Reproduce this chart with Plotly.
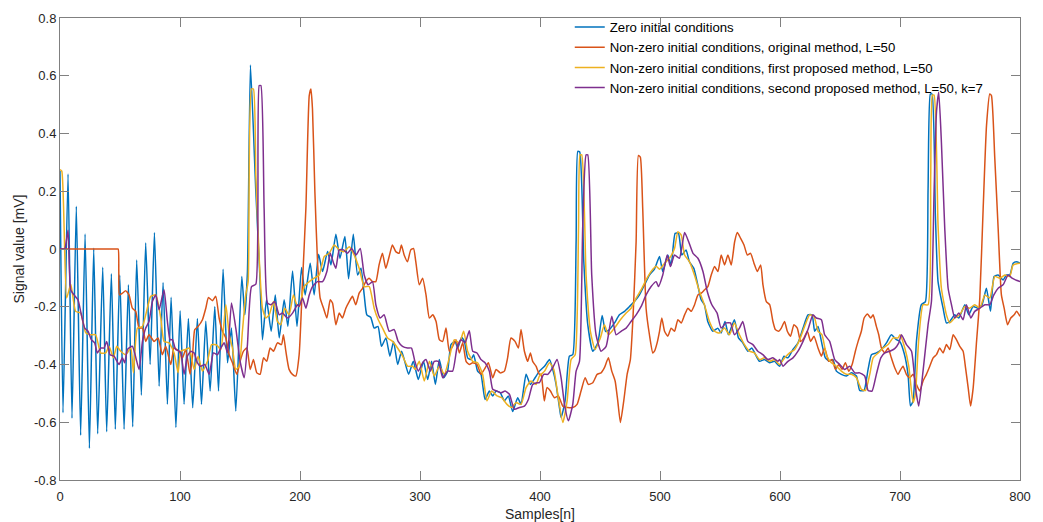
import plotly.graph_objects as go

# ---------------- data (sample index, value in mV) ----------------
blue_pts = [(0,0.27),(2.5,-0.567),(6.7,0.26),(10,-0.586),(13.6,0.148),(17.2,-0.645),(20.9,0.052),(24.5,-0.69),(28.1,0.003),(31.4,-0.64),(35.6,-0.063),(38.9,-0.633),(42.8,-0.086),(46.1,-0.624),(49.8,-0.09),(53.4,-0.624),(57.0,-0.124),(60.6,-0.616),(63.9,-0.038),(67.8,-0.506),(71.4,0.022),(75.1,-0.4),(78.7,0.057),(82.6,-0.475),(85.9,-0.116),(89.5,-0.538),(92.6,-0.167),(96.6,-0.618),(100.1,-0.214),(103.4,-0.538),(107,-0.241),(110.6,-0.55),(114.5,-0.241),(117.9,-0.538),(121.5,-0.25),(125.1,-0.492),(129,-0.199),(132.1,-0.492),(135.9,-0.07),(139.6,-0.394),(142.9,-0.274),(146.5,-0.561),(151.5,-0.095),(154,-0.228),(156.2,-0.078),(158.7,0.637),(163.2,0.198),(166.5,-0.09),(168.7,-0.314),(172.1,-0.176),(176,-0.285),(179.4,-0.159),(182.7,-0.308),(186.8,-0.176),(189.9,-0.268),(193.8,-0.076),(197.5,-0.268),(201.3,-0.064),(204.3,-0.159),(208.5,-0.049),(211.8,-0.159),(215.5,-0.018),(218.8,-0.078),(223,-0.009),(225.8,-0.055),(229.9,0.051),(233.3,-0.032),(237.4,0.043),(240.5,-0.103),(244.4,0.051),(248,-0.09),(250.8,-0.067),(253.5,-0.159),(255.7,-0.228),(259,-0.237),(261.8,-0.274),(265,-0.268),(267.9,-0.337),(271.6,-0.308),(274.9,-0.371),(278,-0.32),(281.4,-0.4),(284.7,-0.354),(290.5,-0.434),(294.4,-0.389),(298.6,-0.452),(302.9,-0.389),(306.4,-0.452),(309.7,-0.389),(312.8,-0.469),(316.1,-0.383),(319.7,-0.446),(323,-0.423),(325.8,-0.331),(329.2,-0.32),(331.4,-0.343),(334.7,-0.306),(337,-0.32),(339.7,-0.377),(342.5,-0.383),(344.7,-0.366),(348,-0.423),(350.8,-0.434),(354.2,-0.521),(357.8,-0.492),(360.6,-0.509),(363.4,-0.492),(366.9,-0.498),(370.3,-0.526),(373.6,-0.509),(377.2,-0.563),(381.4,-0.515),(384.2,-0.538),(388.4,-0.434),(392,-0.469),(395.9,-0.446),(399.5,-0.423),(403.8,-0.406),(407.9,-0.383),(410.6,-0.417),(413.4,-0.469),(416.2,-0.549),(417.6,-0.584),(420.9,-0.526),(424.5,-0.371),(427.3,-0.366),(430.1,0.025),(431.5,0.338),(433.1,0.336),(436.5,-0.044),(439.8,-0.262),(444,-0.354),(448.2,-0.325),(451.8,-0.23),(454.6,-0.285),(457.9,-0.279),(462.1,-0.256),(466.2,-0.228),(470.4,-0.216),(474.6,-0.199),(478.7,-0.182),(482.9,-0.159),(487.1,-0.124),(491.2,-0.09),(495.4,-0.07),(499.6,-0.026),(502.3,-0.078),(506.5,-0.021),(509.3,-0.055),(512.6,0.054),(515.4,0.054),(518.2,-0.021),(521.7,-0.003),(524.5,-0.044),(528.2,-0.067),(530.9,-0.113),(534.3,-0.176),(537,-0.193),(539.8,-0.251),(544,-0.285),(548.1,-0.274),(550.9,-0.291),(554.2,-0.251),(557,-0.297),(562,-0.245),(565.4,-0.308),(569,-0.325),(573.2,-0.354),(576.5,-0.343),(579.6,-0.366),(582.9,-0.389),(587.1,-0.383),(591.3,-0.394),(595.4,-0.389),(599.6,-0.406),(603.3,-0.371),(606.6,-0.377),(610.8,-0.348),(615,-0.325),(619.2,-0.274),(623.3,-0.228),(626.7,-0.228),(628.9,-0.285),(631.7,-0.268),(634.5,-0.32),(637.8,-0.377),(641.4,-0.389),(644.2,-0.383),(647,-0.423),(651.1,-0.434),(655.3,-0.44),(659.5,-0.429),(663.7,-0.44),(666.4,-0.49),(670,-0.49),(673.4,-0.417),(676.2,-0.366),(680.3,-0.36),(684.5,-0.348),(688.7,-0.325),(692.8,-0.297),(697,-0.314),(699.8,-0.32),(703.4,-0.36),(706.7,-0.434),(708.7,-0.544),(710.9,-0.526),(713.7,-0.32),(717.8,-0.193),(721.2,-0.182),(723.4,0.209),(725.3,0.537),(726.7,0.537),(729.5,0.117),(731.7,-0.113),(735.9,-0.205),(738.7,-0.256),(741.5,-0.251),(745.6,-0.228),(749,-0.239),(754,-0.193),(757.3,-0.228),(760.9,-0.199),(765.1,-0.205),(768.4,-0.193),(772,-0.136),(775.4,-0.216),(778.4,-0.095),(781.8,-0.09),(785.9,-0.107),(788.7,-0.09),(791.5,-0.09),(794.3,-0.049),(797,-0.044),(800,-0.049)]

orange_pts = [(0,0),(20,0),(40,0),(47,0),(48.5,0),(49,-0.08),(49.5,-0.159),(52,-0.153),(54.8,-0.145),(57.5,-0.159),(60.3,-0.205),(63.1,-0.216),(65.9,-0.274),(68.7,-0.274),(71.4,-0.32),(74.2,-0.297),(78.4,-0.32),(81.7,-0.308),(85.3,-0.366),(88.1,-0.337),(92.3,-0.4),(95.1,-0.343),(99.2,-0.354),(102,-0.377),(104.8,-0.348),(108.4,-0.434),(110.4,-0.371),(112.3,-0.279),(115.1,-0.268),(118.7,-0.245),(121.5,-0.205),(123.7,-0.168),(127,-0.179),(129.8,-0.164),(132.6,-0.239),(135.4,-0.285),(138.2,-0.308),(141,-0.366),(143.7,-0.394),(147.4,-0.434),(150.1,-0.389),(152.9,-0.354),(155.7,-0.343),(158.5,-0.417),(161.2,-0.383),(164,-0.429),(166.8,-0.434),(169.6,-0.377),(172.3,-0.389),(175.1,-0.343),(177.9,-0.354),(181.2,-0.325),(184.6,-0.331),(186.2,-0.297),(188.2,-0.354),(190.9,-0.417),(193.7,-0.434),(196.5,-0.44),(199.3,-0.366),(202.1,-0.113),(204.9,0.14),(207.7,0.531),(209.1,0.554),(210.4,0.485),(212.4,0.198),(214.6,-0.044),(216.8,-0.17),(219.6,-0.205),(222.4,-0.239),(225.2,-0.176),(227.1,-0.187),(229.9,-0.262),(232.7,-0.222),(235.4,-0.239),(238.2,-0.205),(241,-0.182),(243.7,-0.164),(246.5,-0.193),(249.3,-0.153),(252.1,-0.136),(254.8,-0.113),(257.6,-0.101),(260.4,-0.113),(263.2,-0.113),(265.9,-0.055),(268.7,-0.015),(271.5,-0.067),(274.3,-0.026),(277,0.014),(279.8,-0.009),(282.6,-0.015),(284.5,0.014),(286.8,-0.021),(289.6,-0.044),(292.3,-0.003),(294.6,0.002),(296.5,-0.044),(299.4,-0.124),(302.2,-0.101),(305,-0.159),(307.8,-0.239),(310.6,-0.228),(313.4,-0.251),(316.1,-0.314),(318.9,-0.32),(321.7,-0.274),(324.4,-0.354),(327.2,-0.337),(330,-0.314),(332.8,-0.36),(335.6,-0.325),(338.4,-0.389),(341.1,-0.4),(343.9,-0.394),(347.5,-0.4),(350.8,-0.434),(353.6,-0.417),(357,-0.394),(360.6,-0.446),(363.4,-0.417),(366.9,-0.429),(370.3,-0.423),(373,-0.377),(375.8,-0.308),(379.2,-0.32),(382,-0.343),(384.2,-0.279),(387,-0.354),(389.8,-0.389),(392,-0.36),(393.9,-0.389),(396.7,-0.406),(399.5,-0.434),(400.9,-0.434),(403.6,-0.526),(405.8,-0.48),(408.7,-0.492),(412,-0.515),(415.3,-0.509),(419,-0.544),(423.1,-0.549),(427.3,-0.549),(430.9,-0.538),(434.2,-0.492),(437.6,-0.446),(440.3,-0.469),(444,-0.463),(447.6,-0.434),(450.9,-0.429),(453.7,-0.411),(457,-0.377),(459.8,-0.423),(462.6,-0.457),(464.8,-0.526),(467,-0.601),(469.8,-0.526),(472.6,-0.434),(475.3,-0.383),(477.6,-0.228),(480.1,0.025),(482,0.324),(483.6,0.318),(485.6,0.14),(488.4,-0.205),(491.2,-0.297),(494,-0.36),(495.4,-0.354),(497.6,-0.325),(499.6,-0.285),(501.5,-0.239),(503.8,-0.285),(506.5,-0.302),(509.3,-0.274),(512.1,-0.285),(514.9,-0.245),(517.7,-0.256),(520.5,-0.228),(523.3,-0.205),(526,-0.216),(528.8,-0.193),(531.6,-0.159),(534.4,-0.153),(537.2,-0.141),(539.9,-0.13),(542.7,-0.09),(545.5,-0.061),(548.3,-0.078),(551,-0.021),(553.8,-0.055),(556.6,-0.021),(559.4,-0.055),(562.2,0.025),(564.4,0.057),(567.2,0.037),(570,0.014),(572.8,-0.021),(575.5,-0.015),(578.3,-0.049),(581.1,-0.078),(583.9,-0.055),(585.8,-0.124),(588.6,-0.182),(591.4,-0.193),(594.1,-0.251),(596.1,-0.279),(598.9,-0.285),(601.1,-0.274),(603.8,-0.251),(606.1,-0.285),(608.8,-0.302),(611.6,-0.262),(614.4,-0.274),(617.2,-0.32),(620,-0.308),(622.8,-0.285),(625.5,-0.32),(628.3,-0.302),(631.7,-0.343),(634.5,-0.371),(637.2,-0.343),(640.6,-0.389),(643.4,-0.383),(646.2,-0.417),(649,-0.4),(651.7,-0.417),(654.5,-0.394),(657.3,-0.423),(660.1,-0.4),(662.8,-0.354),(665.1,-0.32),(667.8,-0.285),(670.1,-0.239),(672.8,-0.225),(675.6,-0.239),(677.6,-0.228),(680.3,-0.268),(682.3,-0.297),(684.5,-0.343),(687.3,-0.36),(690.1,-0.343),(692.8,-0.377),(695.6,-0.411),(698.4,-0.434),(699.8,-0.423),(702.5,-0.406),(705.3,-0.434),(708.1,-0.446),(710.9,-0.434),(713.7,-0.469),(716.4,-0.492),(719.2,-0.457),(722,-0.434),(724.8,-0.406),(727.6,-0.377),(730.4,-0.366),(733.1,-0.343),(735.9,-0.36),(738.7,-0.331),(741.5,-0.348),(744.3,-0.297),(747,-0.314),(749.8,-0.337),(752.6,-0.354),(754.6,-0.411),(756.8,-0.48),(758.8,-0.544),(761,-0.48),(763.8,-0.32),(766.5,-0.17),(769.3,0.14),(772.1,0.428),(774.8,0.537),(776.2,0.531),(779,0.313),(781.8,0.071),(784.5,-0.159),(786.8,-0.205),(789.6,-0.262),(792.3,-0.239),(795.1,-0.228),(797.1,-0.216),(800,-0.233)]

yellow_pts = [(0,0.275),(1.5,0.27),(5.5,-0.17),(9,-0.122),(13,-0.216),(17.2,-0.222),(21.4,-0.29),(25.6,-0.297),(29.7,-0.297),(33.9,-0.36),(38.1,-0.36),(40.9,-0.337),(44.5,-0.377),(47.3,-0.337),(50.6,-0.354),(54.8,-0.366),(59,-0.343),(61.2,-0.429),(64.5,-0.274),(68.7,-0.268),(75.6,-0.164),(79.8,-0.159),(84,-0.239),(86.7,-0.32),(90.9,-0.325),(95.1,-0.36),(98.4,-0.429),(100.7,-0.354),(104.8,-0.348),(107.6,-0.343),(111.8,-0.417),(115.1,-0.371),(118.7,-0.423),(122.9,-0.389),(126.3,-0.331),(130.7,-0.333),(134,-0.348),(138.2,-0.193),(141,-0.297),(143.7,-0.343),(146.5,-0.417),(149.3,-0.406),(152,-0.285),(154.8,-0.159),(156.8,-0.113),(159.5,0.554),(161.2,0.554),(163.2,0.255),(166,-0.032),(168.7,-0.205),(171.5,-0.239),(174.3,-0.228),(177.9,-0.182),(181.2,-0.251),(184,-0.262),(187.3,-0.205),(190.9,-0.228),(194.5,-0.159),(197,-0.19),(199.3,-0.199),(203.5,-0.13),(207.7,-0.113),(211.8,-0.101),(216,-0.09),(220.2,-0.026),(224.3,-0.015),(228.5,0.014),(232.7,-0.003),(236.8,-0.009),(241,0.008),(245.2,-0.021),(249.3,-0.067),(253.5,-0.13),(257.7,-0.13),(261.8,-0.205),(265.2,-0.245),(268.8,-0.274),(273,-0.308),(277.2,-0.32),(281.3,-0.343),(285.5,-0.371),(289.7,-0.406),(293.8,-0.406),(296,-0.417),(299.4,-0.389),(303.6,-0.457),(307.8,-0.389),(311.9,-0.44),(316.1,-0.406),(320.3,-0.434),(324.4,-0.377),(328.6,-0.314),(332.8,-0.325),(336.4,-0.285),(339.7,-0.354),(343.9,-0.389),(348,-0.394),(352.2,-0.434),(355.8,-0.526),(359.7,-0.492),(364.2,-0.509),(368.1,-0.515),(372.5,-0.538),(376.4,-0.549),(380,-0.532),(384.2,-0.538),(388.4,-0.48),(392.5,-0.457),(396.7,-0.469),(399.5,-0.44),(403.8,-0.423),(407.9,-0.394),(411.5,-0.417),(414.8,-0.503),(419,-0.601),(422.6,-0.526),(425.9,-0.383),(429.3,-0.366),(432.1,0.071),(433.4,0.326),(434.8,0.326),(438.4,-0.09),(442,-0.285),(445.9,-0.348),(450.3,-0.308),(453.7,-0.262),(457,-0.297),(462,-0.274),(467,-0.245),(471.8,-0.222),(475.9,-0.205),(480.1,-0.17),(484.3,-0.141),(488.4,-0.107),(492.6,-0.078),(496.8,-0.06),(499.6,-0.07),(503.8,-0.049),(507.9,-0.032),(512.1,0.002),(514.9,0.06),(517.7,0.048),(520.5,-0.021),(524.5,-0.044),(528.7,-0.09),(532.9,-0.147),(537,-0.193),(541.2,-0.251),(545.4,-0.285),(549.5,-0.291),(553.7,-0.274),(557.9,-0.297),(562,-0.256),(566.2,-0.297),(570.4,-0.331),(574.6,-0.354),(578.7,-0.36),(582.9,-0.383),(587.1,-0.377),(591.3,-0.389),(595.4,-0.383),(599.6,-0.4),(603.9,-0.377),(608,-0.36),(612.2,-0.348),(616.4,-0.314),(620.5,-0.268),(624.7,-0.228),(628.3,-0.233),(631.7,-0.285),(635,-0.297),(638.6,-0.366),(642.8,-0.394),(647,-0.406),(651.1,-0.423),(655.3,-0.434),(659.5,-0.434),(663.7,-0.446),(667.8,-0.486),(671.2,-0.49),(674.8,-0.434),(677.6,-0.377),(681.8,-0.36),(685.9,-0.343),(690.1,-0.331),(694.3,-0.308),(698.4,-0.308),(700,-0.297),(704,-0.343),(707.3,-0.406),(710.9,-0.532),(712.8,-0.503),(715.6,-0.314),(719.2,-0.193),(723.4,-0.193),(725.6,0.255),(727,0.533),(728.4,0.533),(731.7,0.083),(734.5,-0.136),(738.7,-0.228),(741.5,-0.256),(745.6,-0.239),(749.8,-0.228),(754,-0.199),(758.1,-0.205),(762.3,-0.193),(766.5,-0.205),(770.7,-0.159),(774.8,-0.17),(779,-0.095),(783.2,-0.101),(787.4,-0.09),(791.5,-0.095),(794.3,-0.055),(800,-0.049)]

purple_pts = [(0,0),(2,0),(4,0),(5,0.02),(6.7,0.065),(8.9,-0.141),(11.7,-0.159),(15,-0.176),(17.2,-0.216),(20.6,-0.274),(23.4,-0.285),(26.1,-0.314),(28.9,-0.325),(31.1,-0.36),(33.9,-0.343),(36.7,-0.343),(38.9,-0.32),(41.7,-0.366),(45,-0.371),(49.2,-0.4),(52,-0.377),(53.9,-0.394),(56.2,-0.348),(60.3,-0.337),(65.9,-0.417),(68.7,-0.32),(71.4,-0.274),(74.2,-0.251),(77,-0.182),(79.8,-0.159),(82.6,-0.21),(86.7,-0.141),(89.5,-0.251),(91.7,-0.314),(93.7,-0.314),(96.4,-0.348),(99.2,-0.354),(100.7,-0.36),(103.4,-0.434),(106.2,-0.371),(109,-0.354),(111.8,-0.36),(114.5,-0.394),(117.3,-0.406),(120.7,-0.4),(124.3,-0.434),(127.9,-0.36),(131.2,-0.366),(134,-0.343),(136.8,-0.325),(139.6,-0.36),(142.9,-0.187),(146.5,-0.274),(150.1,-0.389),(153.5,-0.446),(156.2,-0.331),(159.6,-0.13),(163.2,-0.122),(166,0.566),(167.4,0.566),(170.1,0.14),(172.9,-0.187),(175.7,-0.193),(179,-0.182),(182.7,-0.228),(185.4,-0.222),(189.6,-0.239),(193.8,-0.222),(197.9,-0.193),(199.3,-0.199),(202.1,-0.17),(204.9,-0.205),(207.7,-0.159),(210.4,-0.13),(214.6,-0.113),(218.8,-0.113),(222.4,-0.078),(225.2,-0.015),(228,-0.049),(229.9,-0.067),(232.7,-0.003),(236.3,-0.003),(239.6,-0.015),(243,0.002),(246.6,-0.021),(250.2,0.002),(253.5,-0.09),(256.8,-0.124),(260.4,-0.113),(263.2,-0.193),(266.8,-0.239),(270.1,-0.228),(274.3,-0.285),(278.5,-0.279),(281.8,-0.32),(285.4,-0.337),(289.6,-0.343),(292.9,-0.343),(295.7,-0.389),(298.6,-0.423),(302.2,-0.394),(305,-0.383),(308.6,-0.423),(311.9,-0.389),(315.3,-0.389),(318.9,-0.446),(323,-0.423),(327.2,-0.423),(330.8,-0.343),(334.2,-0.314),(337.5,-0.325),(341.1,-0.283),(343.9,-0.354),(347.5,-0.36),(350.8,-0.383),(354.2,-0.394),(357.8,-0.423),(360.6,-0.486),(364.2,-0.492),(367.5,-0.498),(370.9,-0.492),(374.5,-0.503),(378.6,-0.555),(382.8,-0.549),(387,-0.544),(390.3,-0.521),(393.9,-0.469),(397.5,-0.463),(399.5,-0.463),(403.1,-0.434),(406.5,-0.434),(410.6,-0.411),(414.2,-0.383),(417.6,-0.446),(420.4,-0.538),(423.7,-0.595),(427.3,-0.538),(430.1,-0.423),(432.9,-0.389),(435.6,0.077),(438.4,0.326),(439.8,0.326),(443.1,-0.09),(446.7,-0.297),(450.9,-0.354),(455.1,-0.337),(459.8,-0.233),(463.4,-0.297),(467.6,-0.285),(471.8,-0.274),(475.9,-0.251),(480.1,-0.228),(484.3,-0.199),(488.4,-0.159),(492.6,-0.13),(496.8,-0.113),(498.7,-0.13),(502.3,-0.09),(506,-0.021),(508.7,-0.061),(512.1,-0.021),(516.2,-0.032),(520.5,0.057),(523.9,0.025),(527.5,-0.015),(531.6,-0.032),(535.8,-0.078),(539.4,-0.147),(543.2,-0.193),(547.6,-0.222),(550.9,-0.274),(555.1,-0.256),(558.7,-0.256),(562,-0.297),(566.2,-0.274),(569,-0.251),(573.2,-0.32),(577.4,-0.331),(581.5,-0.354),(585.7,-0.366),(589.9,-0.383),(594,-0.377),(598.2,-0.389),(599.7,-0.383),(602.5,-0.406),(606.6,-0.389),(610.8,-0.377),(615,-0.354),(619.2,-0.32),(623.3,-0.279),(627.5,-0.228),(630.3,-0.239),(634.5,-0.245),(637.2,-0.297),(641.4,-0.32),(645.6,-0.383),(649.8,-0.4),(653.9,-0.417),(658.1,-0.406),(662.3,-0.429),(666.4,-0.429),(670.6,-0.44),(673.4,-0.49),(676.7,-0.492),(680.3,-0.434),(684,-0.377),(687.3,-0.36),(691.5,-0.354),(695.6,-0.345),(699,-0.325),(701.2,-0.297),(705.4,-0.331),(709.6,-0.354),(712.9,-0.48),(715.6,-0.544),(719.2,-0.423),(723.4,-0.262),(726.2,-0.182),(728.4,0.198),(730.4,0.474),(732.3,0.543),(734.5,0.37),(737.3,0.071),(740.1,-0.136),(742.9,-0.193),(745.6,-0.239),(749,-0.222),(752.6,-0.245),(755.4,-0.193),(759,-0.239),(762.3,-0.216),(766.5,-0.205),(770.7,-0.193),(774.8,-0.193),(778.2,-0.159),(781.8,-0.136),(785.9,-0.124),(790.1,-0.09),(793.4,-0.101),(796.2,-0.107),(800,-0.113)]

series_names = [
    "Zero initial conditions",
    "Non-zero initial conditions, original method, L=50",
    "Non-zero initial conditions, first proposed method, L=50",
    "Non-zero initial conditions, second proposed method, L=50, k=7",
]
series_colors = ["#0072BD", "#D95319", "#EDB120", "#7E2F8E"]
series_pts = [blue_pts, orange_pts, yellow_pts, purple_pts]

x_ticks = [0, 100, 200, 300, 400, 500, 600, 700, 800]
y_ticks = [-0.8, -0.6, -0.4, -0.2, 0, 0.2, 0.4, 0.6, 0.8]
y_tick_text = ["-0.8", "-0.6", "-0.4", "-0.2", "0", "0.2", "0.4", "0.6", "0.8"]

# ---------------- figure ----------------
FONT = "Liberation Sans, Arial, Helvetica, sans-serif"
fig = go.Figure()
for name, color, pts in zip(series_names, series_colors, series_pts):
    fig.add_trace(go.Scatter(
        x=[p[0] for p in pts], y=[p[1] for p in pts],
        mode="lines", name=name,
        line=dict(color=color, width=1.5, shape="spline", smoothing=0.5),
    ))

axis_common = dict(
    showgrid=False, zeroline=False, showline=True, linecolor="#808080",
    linewidth=1, mirror="ticks", ticks="inside", ticklen=9,
    tickcolor="#808080", tickwidth=1, automargin=False,
    tickfont=dict(family=FONT, size=13, color="#262626"),
)
fig.update_xaxes(range=[0, 800], tickvals=x_ticks, ticklabelstandoff=4,
                 title=dict(text="Samples[n]", font=dict(family=FONT, size=14, color="#262626"), standoff=6),
                 **axis_common)
fig.update_yaxes(range=[-0.8, 0.8], tickvals=y_ticks, ticktext=y_tick_text,
                 title=dict(text="Signal value [mV]", font=dict(family=FONT, size=14, color="#262626"), standoff=6),
                 **axis_common)

fig.update_layout(
    width=1043, height=522,
    margin=dict(l=60, r=23, t=16, b=42),
    plot_bgcolor="white", paper_bgcolor="white",
    font=dict(family=FONT, size=13, color="#262626"),
    showlegend=True,
    legend=dict(x=0.531, y=1.013, xanchor="left", yanchor="top",
                bgcolor="rgba(255,255,255,0)", borderwidth=0,
                font=dict(family=FONT, size=13.2, color="#000000"),
                tracegroupgap=0, itemwidth=30),
)

fig.write_html("out.html")
